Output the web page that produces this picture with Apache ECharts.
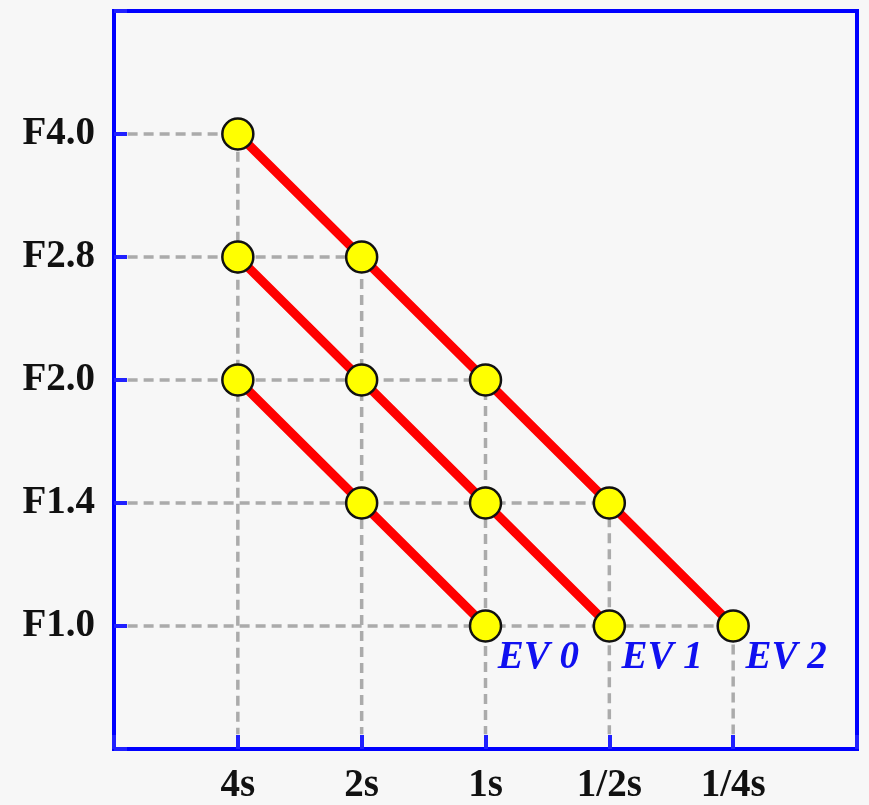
<!DOCTYPE html>
<html><head><meta charset="utf-8">
<script src="https://cdn.jsdelivr.net/npm/echarts@6/dist/echarts.min.js"></script>
<style>html,body{margin:0;padding:0;background:#f7f7f7}#c{width:869px;height:805px}</style>
</head><body><div id="c"></div>
<script>
// Tick labels
const shutterLabels = ['4s', '2s', '1s', '1/2s', '1/4s'];
const apertureLabels = ['F1.0', 'F1.4', 'F2.0', 'F2.8', 'F4.0'];
// Series: shutter (x) and aperture (y) of each point
const ev0Shutter = ['4s', '2s', '1s'];
const ev0Aperture = ['F2.0', 'F1.4', 'F1.0'];
const ev1Shutter = ['4s', '2s', '1s', '1/2s'];
const ev1Aperture = ['F2.8', 'F2.0', 'F1.4', 'F1.0'];
const ev2Shutter = ['4s', '2s', '1s', '1/2s', '1/4s'];
const ev2Aperture = ['F4.0', 'F2.8', 'F2.0', 'F1.4', 'F1.0'];
const seriesNames = ['EV 0', 'EV 1', 'EV 2'];

const xi = s => shutterLabels.indexOf(s) + 1;
const yi = a => apertureLabels.indexOf(a) + 1;
const pts = (sh, ap) => sh.map((s, i) => [xi(s), yi(ap[i])]);

const lines = [pts(ev0Shutter, ev0Aperture), pts(ev1Shutter, ev1Aperture), pts(ev2Shutter, ev2Aperture)];

const series = [];
// guide dashed lines from EV2 (upper envelope) points
lines[2].forEach(p => {
  series.push({
    type: 'line', silent: true, symbol: 'none', z: 1,
    lineStyle: { color: '#ababab', width: 3.5, type: [10, 6] },
    data: [[0.11, p[1]], [p[0], p[1]], [p[0], 0.12]]
  });
});
lines.forEach((d, k) => {
  series.push({
    type: 'line', name: seriesNames[k], z: 3,
    symbol: 'circle', symbolSize: 31,
    lineStyle: { color: '#ff0000', width: 9 },
    itemStyle: { color: '#ffff00', borderColor: '#111', borderWidth: 2.5 },
    data: d.map((p, i) => i === d.length - 1 ? {
      value: p,
      label: {
        show: true, formatter: seriesNames[k], position: [29, 49],
        verticalAlign: 'middle', align: 'left',
        color: '#1010f0', fontFamily: 'Liberation Serif', fontStyle: 'italic',
        fontWeight: 'bold', fontSize: 39
      }
    } : p)
  });
});

const chart = echarts.init(document.getElementById('c'));
chart.setOption({
  backgroundColor: '#f7f7f7',
  animation: false,
  grid: { left: 114, top: 11, right: 12, bottom: 53, show: true, borderColor: '#0000ff', borderWidth: 4, backgroundColor: 'transparent' },
  xAxis: {
    type: 'value', min: 0, max: 6, interval: 1, z: 5,
    splitLine: { show: false },
    axisLine: { show: true, lineStyle: { color: '#0000ff', width: 4 } },
    axisTick: { show: true, inside: true, length: 14, lineStyle: { color: '#2020ff', width: 4 } },
    axisLabel: {
      margin: 17, color: '#111', fontFamily: 'Liberation Serif', fontWeight: 'bold', fontSize: 39,
      formatter: v => shutterLabels[v - 1] || ''
    }
  },
  yAxis: {
    type: 'value', min: 0, max: 6, interval: 1, z: 5,
    splitLine: { show: false },
    axisLine: { show: true, lineStyle: { color: '#0000ff', width: 4 } },
    axisTick: { show: true, inside: true, length: 13, lineStyle: { color: '#2020ff', width: 4 } },
    axisLabel: {
      margin: 19, color: '#111', fontFamily: 'Liberation Serif', fontWeight: 'bold', fontSize: 39,
      formatter: v => apertureLabels[v - 1] || ''
    }
  },
  series: series
});
</script></body></html>
